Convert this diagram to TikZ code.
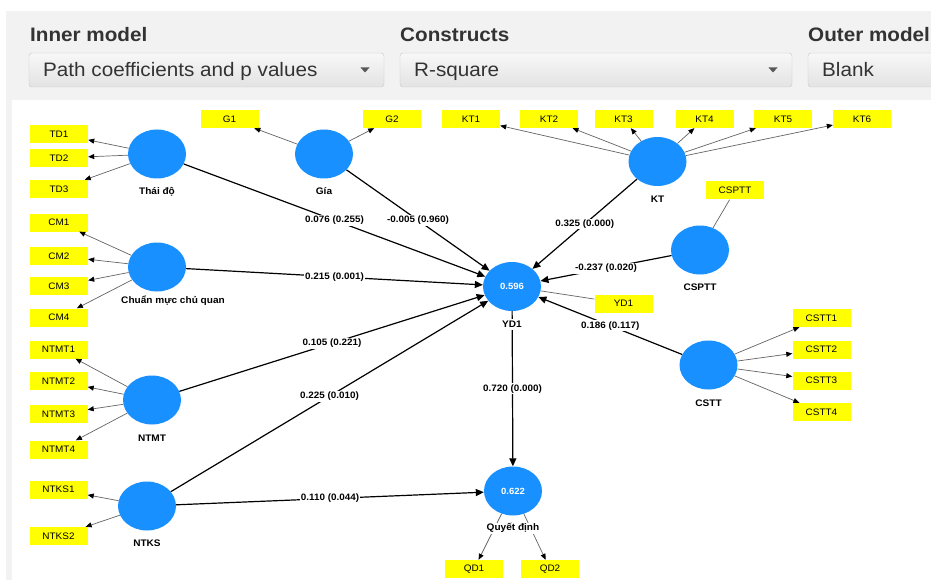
\documentclass[tikz,border=0pt]{standalone}
\usepackage{fontspec}
\setmainfont{Liberation Sans}[FakeStretch=1.06]
\usepackage{tikz}
\usetikzlibrary{positioning, arrows.meta, shapes.geometric}
\usepackage{xcolor}
\definecolor{plsblue}{RGB}{25,144,255}
\definecolor{plsyellow}{RGB}{255,255,0}
\definecolor{panelgray}{RGB}{242,242,242}
\definecolor{hdrgray}{RGB}{51,51,51}
\definecolor{measgray}{RGB}{100,100,100}
\newcommand{\plsfont}[1]{\fontsize{#1}{#1}\selectfont}

\begin{document}
\begin{tikzpicture}[x=1pt, y=-1pt,
    construct/.style={ellipse, fill=plsblue, minimum width=58pt, minimum height=49pt, inner sep=0pt, text=white, font=\bfseries\plsfont{9}},
    item/.style={fill=plsyellow, minimum width=58pt, minimum height=18pt, inner sep=0pt, font=\plsfont{9.4}},
    cname/.style={fill=white, inner sep=1pt, text height=7pt, text depth=2pt, font=\bfseries\plsfont{9.5}},
    coef/.style={fill=white, inner sep=1pt, font=\bfseries\plsfont{9.3}},
    meas/.style={draw=measgray, line width=0.7pt, -{Triangle[length=6pt, width=5pt, black]}},
    single/.style={draw=measgray, line width=0.7pt},
    innerpath/.style={draw=black, line width=1.2pt, -{Triangle[length=8pt, width=7pt]}},
    hdr/.style={anchor=base west, inner sep=0pt, text=hdrgray, font=\bfseries\plsfont{19.5}},
    droptext/.style={anchor=base west, inner sep=0pt, text=hdrgray, font=\plsfont{19.5}},
    dropbox/.style={draw=black!22, rounded corners=3pt, top color=white!97!black, bottom color=white!89!black}
]
    \clip (0,0) rectangle (931,580);
    \fill[white] (0,0) rectangle (931,580);

    % Panel with the selectors
    \fill[panelgray] (6,11) rectangle (931,100);
    \fill[panelgray] (6,100) rectangle (12,580);
    \node[hdr] (innerhdr) at (30,42) {Inner model};
    \node[hdr] (conhdr) at (400,42) {Constructs};
    \node[hdr] (outerhdr) at (808,42) {Outer model};
    \shade[dropbox] (29,53) rectangle (384,87);
    \shade[dropbox] (400,53) rectangle (792,87);
    \shade[dropbox] (808,53) rectangle (945,87);
    \node[droptext] (innersel) at (43,77) {Path coefficients and p values};
    \node[droptext] (consel) at (414,77) {R-square};
    \node[droptext] (outersel) at (822,77) {Blank};
    \fill[black!65] (360.5,67.5) -- (369.5,67.5) -- (365,72.5) -- cycle;
    \fill[black!65] (768.5,67.5) -- (777.5,67.5) -- (773,72.5) -- cycle;

    % Constructs
    \node[construct] (td) at (157,154) {};
    \node[construct] (gia) at (324,154) {};
    \node[construct] (kt) at (657.5,161.5) {};
    \node[construct] (csptt) at (700,250) {};
    \node[construct] (yd) at (512,286.5) {0.596};
    \node[construct] (cm) at (157,267) {};
    \node[construct] (ntmt) at (152,400) {};
    \node[construct] (ntks) at (147,506) {};
    \node[construct] (cstt) at (708.5,365) {};
    \node[construct] (qd) at (513,491) {0.622};

    % Indicators
    \node[item] (td1) at (59,134) {TD1};
    \node[item] (td2) at (59,158) {TD2};
    \node[item] (td3) at (59,189) {TD3};
    \node[item] (cm1) at (59,222.5) {CM1};
    \node[item] (cm2) at (59,256) {CM2};
    \node[item] (cm3) at (59,286) {CM3};
    \node[item] (cm4) at (59,317.5) {CM4};
    \node[item] (ntmt1) at (58.5,349.5) {NTMT1};
    \node[item] (ntmt2) at (58.5,381) {NTMT2};
    \node[item] (ntmt3) at (58.5,414) {NTMT3};
    \node[item] (ntmt4) at (58.5,449.5) {NTMT4};
    \node[item] (ntks1) at (58.5,489.5) {NTKS1};
    \node[item] (ntks2) at (58.5,536) {NTKS2};
    \node[item] (g1) at (229.5,119) {G1};
    \node[item] (g2) at (392,119) {G2};
    \node[item] (kt1) at (471,119) {KT1};
    \node[item] (kt2) at (549,119) {KT2};
    \node[item] (kt3) at (623.5,119) {KT3};
    \node[item] (kt4) at (704.5,119) {KT4};
    \node[item] (kt5) at (783,119) {KT5};
    \node[item] (kt6) at (862,119) {KT6};
    \node[item] (cspttbox) at (735,190.5) {CSPTT};
    \node[item] (ydbox) at (623.5,303.5) {YD1};
    \node[item] (cstt1) at (821.5,318) {CSTT1};
    \node[item] (cstt2) at (821.5,349.5) {CSTT2};
    \node[item] (cstt3) at (821.5,380.5) {CSTT3};
    \node[item] (cstt4) at (821.5,412) {CSTT4};
    \node[item] (qd1) at (474,569) {QD1};
    \node[item] (qd2) at (550,569) {QD2};

    % Outer model
    \draw[meas] (td) -- (td1);
    \draw[meas] (td) -- (td2);
    \draw[meas] (td) -- (td3);
    \draw[meas] (cm) -- (cm1);
    \draw[meas] (cm) -- (cm2);
    \draw[meas] (cm) -- (cm3);
    \draw[meas] (cm) -- (cm4);
    \draw[meas] (ntmt) -- (ntmt1);
    \draw[meas] (ntmt) -- (ntmt2);
    \draw[meas] (ntmt) -- (ntmt3);
    \draw[meas] (ntmt) -- (ntmt4);
    \draw[meas] (ntks) -- (ntks1);
    \draw[meas] (ntks) -- (ntks2);
    \draw[meas] (gia) -- (g1);
    \draw[meas] (gia) -- (g2);
    \draw[meas] (kt) -- (kt1);
    \draw[meas] (kt) -- (kt2);
    \draw[meas] (kt) -- (kt3);
    \draw[meas] (kt) -- (kt4);
    \draw[meas] (kt) -- (kt5);
    \draw[meas] (kt) -- (kt6);
    \draw[single] (csptt) -- (cspttbox);
    \draw[single] (yd) -- (ydbox);
    \draw[meas] (cstt) -- (cstt1);
    \draw[meas] (cstt) -- (cstt2);
    \draw[meas] (cstt) -- (cstt3);
    \draw[meas] (cstt) -- (cstt4);
    \draw[meas] (qd) -- (qd1);
    \draw[meas] (qd) -- (qd2);

    % Inner model: path coefficients (p values)
    \draw[innerpath] (td) -- node[coef] {0.076 (0.255)} (yd);
    \draw[innerpath] (gia) -- node[coef] {-0.005 (0.960)} (yd);
    \draw[innerpath] (cm) -- node[coef] {0.215 (0.001)} (yd);
    \draw[innerpath] (ntmt) -- node[coef] {0.105 (0.221)} (yd);
    \draw[innerpath] (ntks) -- node[coef] {0.225 (0.010)} (yd);
    \draw[innerpath] (kt) -- node[coef] {0.325 (0.000)} (yd);
    \draw[innerpath] (csptt) -- node[coef] {-0.237 (0.020)} (yd);
    \draw[innerpath] (cstt) -- node[coef] {0.186 (0.117)} (yd);
    \draw[innerpath] (yd) -- node[coef] {0.720 (0.000)} (qd);
    \draw[innerpath] (ntks) -- node[coef] {0.110 (0.044)} (qd);

    % Construct names
    \node[cname] (tdname) at ([yshift=-38pt]td) {Thái độ};
    \node[cname] (gianame) at ([yshift=-38pt]gia) {Gía};
    \node[cname] (ktname) at ([yshift=-38pt]kt) {KT};
    \node[cname] (cspttname) at ([yshift=-38pt]csptt) {CSPTT};
    \node[cname] (ydname) at ([yshift=-38pt]yd) {YD1};
    \node[cname] (cmname) at ([xshift=16pt, yshift=-34pt]cm) {Chuẩn mực chủ quan};
    \node[cname] (ntmtname) at ([yshift=-39pt]ntmt) {NTMT};
    \node[cname] (ntksname) at ([yshift=-38pt]ntks) {NTKS};
    \node[cname] (csttname) at ([yshift=-39pt]cstt) {CSTT};
    \node[cname] (qdname) at ([yshift=-37pt]qd) {Quyết định};
\end{tikzpicture}
\end{document}
